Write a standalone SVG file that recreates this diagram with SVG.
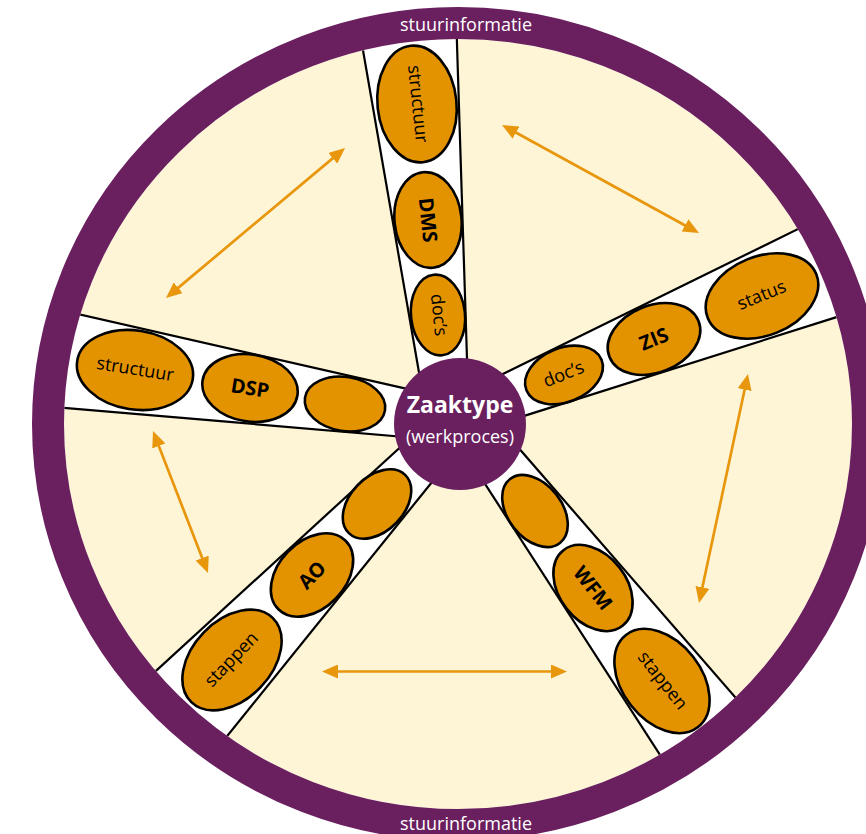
<svg xmlns="http://www.w3.org/2000/svg" width="866" height="834" viewBox="0 0 866 834">
<defs>
<style>
.band{fill:#ffffff;stroke:none}
.bl{stroke:#000000;stroke-width:2.2;fill:none}
.pod{fill:#E39200;stroke:#000000;stroke-width:2.6}
.lbl{font-family:"Open Sans","Noto Sans",sans-serif;font-size:18px;fill:#000000;text-anchor:middle}
.b{font-weight:bold;font-size:20px}
.ring{fill:none;stroke:#6A1F5F;stroke-width:32}
.rt{font-family:"Open Sans","Noto Sans",sans-serif;font-size:18px;fill:#ffffff;text-anchor:middle}
.arr{stroke:#E8960C;stroke-width:2.7;fill:none;marker-start:url(#ah);marker-end:url(#ah)}
.hub1{font-family:"Open Sans","Noto Sans",sans-serif;font-size:23px;font-weight:bold;fill:#ffffff;text-anchor:middle}
.hub2{font-family:"Open Sans","Noto Sans",sans-serif;font-size:18px;fill:#ffffff;text-anchor:middle}
</style>
<marker id="ah" markerUnits="userSpaceOnUse" markerWidth="16" markerHeight="14" refX="8" refY="7" orient="auto-start-reverse" viewBox="0 0 16 14">
<path d="M0,0 L16,7 L0,14 z" fill="#E8960C"/>
</marker>
<clipPath id="inner"><ellipse cx="458" cy="424" rx="394" ry="385"/></clipPath>
</defs>

<rect width="866" height="834" fill="#ffffff"/>
<ellipse id="field" cx="458" cy="424" rx="394" ry="385" fill="#FEF5D7"/>

<g id="spokes" clip-path="url(#inner)">
<polygon class="band" points="423.8,400 359.2,30 456.5,30 468.3,400"/>
<line class="bl" x1="423.8" y1="400" x2="356" y2="10"/>
<line class="bl" x1="468.3" y1="400" x2="455.9" y2="10"/>
<polygon class="band" points="440,396.4 40,305.4 40,405.7 440,440"/>
<line class="bl" x1="440" y1="396.4" x2="20" y2="300.9"/>
<line class="bl" x1="440" y1="440" x2="20" y2="404"/>
<polygon class="band" points="480,385.3 880,188.7 880,303.4 490,426.7"/>
<line class="bl" x1="480" y1="385.3" x2="880" y2="188.7"/>
<line class="bl" x1="490" y1="426.7" x2="880" y2="303.4"/>
<polygon class="band" points="475,468.4 712,835.4 798.6,770.2 501.8,428.6"/>
<line class="bl" x1="475" y1="468.4" x2="712" y2="835.4"/>
<line class="bl" x1="501.8" y1="428.6" x2="798.6" y2="770.2"/>
<polygon class="band" points="418.8,430.2 85.6,735.4 168,809.4 448,462.2"/>
<line class="bl" x1="418.8" y1="430.2" x2="85.6" y2="735.4"/>
<line class="bl" x1="448" y1="462.2" x2="168" y2="809.4"/>
</g>

<g id="connectors">
<line class="arr" x1="172.1" y1="292.9" x2="338.9" y2="153.1"/>
<line class="arr" x1="509" y1="128.8" x2="692" y2="229.2"/>
<line class="arr" x1="746.3" y1="381.8" x2="700.7" y2="595.2"/>
<line class="arr" x1="155.9" y1="438.5" x2="205.1" y2="565.5"/>
<line class="arr" x1="330" y1="671.5" x2="559" y2="671.5"/>
</g>

<g id="ring">
<ellipse class="ring" cx="458" cy="424" rx="410" ry="401"/>
<text class="rt" x="466" y="31">stuurinformatie</text>
<text class="rt" x="466" y="830">stuurinformatie</text>
</g>

<g id="hub">
<circle cx="460" cy="424" r="66" fill="#6A1F5F"/>
<text class="hub1" x="460" y="413">Zaaktype</text>
<text class="hub2" x="460" y="443">(werkproces)</text>
</g>

<g id="top-structuur" transform="translate(417,104) rotate(84)"><ellipse class="pod" rx="58.5" ry="39.5"/><text class="lbl" y="5">structuur</text></g>
<g id="top-dms" transform="translate(428,220) rotate(84)"><ellipse class="pod" rx="48" ry="33.5"/><text class="lbl b" y="7">DMS</text></g>
<g id="top-docs" transform="translate(438,315) rotate(84)"><ellipse class="pod" rx="40.5" ry="27"/><text class="lbl" y="5">doc’s</text></g>

<g id="left-structuur" transform="translate(135,370) rotate(9)"><ellipse class="pod" rx="58.5" ry="39.5"/><text class="lbl" y="5">structuur</text></g>
<g id="left-dsp" transform="translate(250,388) rotate(9)"><ellipse class="pod" rx="48" ry="33.5"/><text class="lbl b" y="7">DSP</text></g>
<g id="left-empty" transform="translate(345,404) rotate(9)"><ellipse class="pod" rx="40.5" ry="27"/></g>

<g id="right-docs" transform="translate(564,375) rotate(-22)"><ellipse class="pod" rx="40.5" ry="27"/><text class="lbl" y="5">doc’s</text></g>
<g id="right-zis" transform="translate(654,339) rotate(-22)"><ellipse class="pod" rx="48" ry="33.5"/><text class="lbl b" y="7">ZIS</text></g>
<g id="right-status" transform="translate(762,296) rotate(-22)"><ellipse class="pod" rx="58.5" ry="39.5"/><text class="lbl" y="5">status</text></g>

<g id="br-empty" transform="translate(535,511) rotate(52)"><ellipse class="pod" rx="40.5" ry="27"/></g>
<g id="br-wfm" transform="translate(593,588) rotate(52)"><ellipse class="pod" rx="48" ry="33.5"/><text class="lbl b" y="7">WFM</text></g>
<g id="br-stappen" transform="translate(662,681) rotate(52)"><ellipse class="pod" rx="58.5" ry="39.5"/><text class="lbl" y="5">stappen</text></g>

<g id="bl-empty" transform="translate(377,504) rotate(-46)"><ellipse class="pod" rx="40.5" ry="27"/></g>
<g id="bl-ao" transform="translate(312,575) rotate(-46)"><ellipse class="pod" rx="48" ry="33.5"/><text class="lbl b" y="7">AO</text></g>
<g id="bl-stappen" transform="translate(232,660) rotate(-46)"><ellipse class="pod" rx="58.5" ry="39.5"/><text class="lbl" y="5">stappen</text></g>
</svg>
